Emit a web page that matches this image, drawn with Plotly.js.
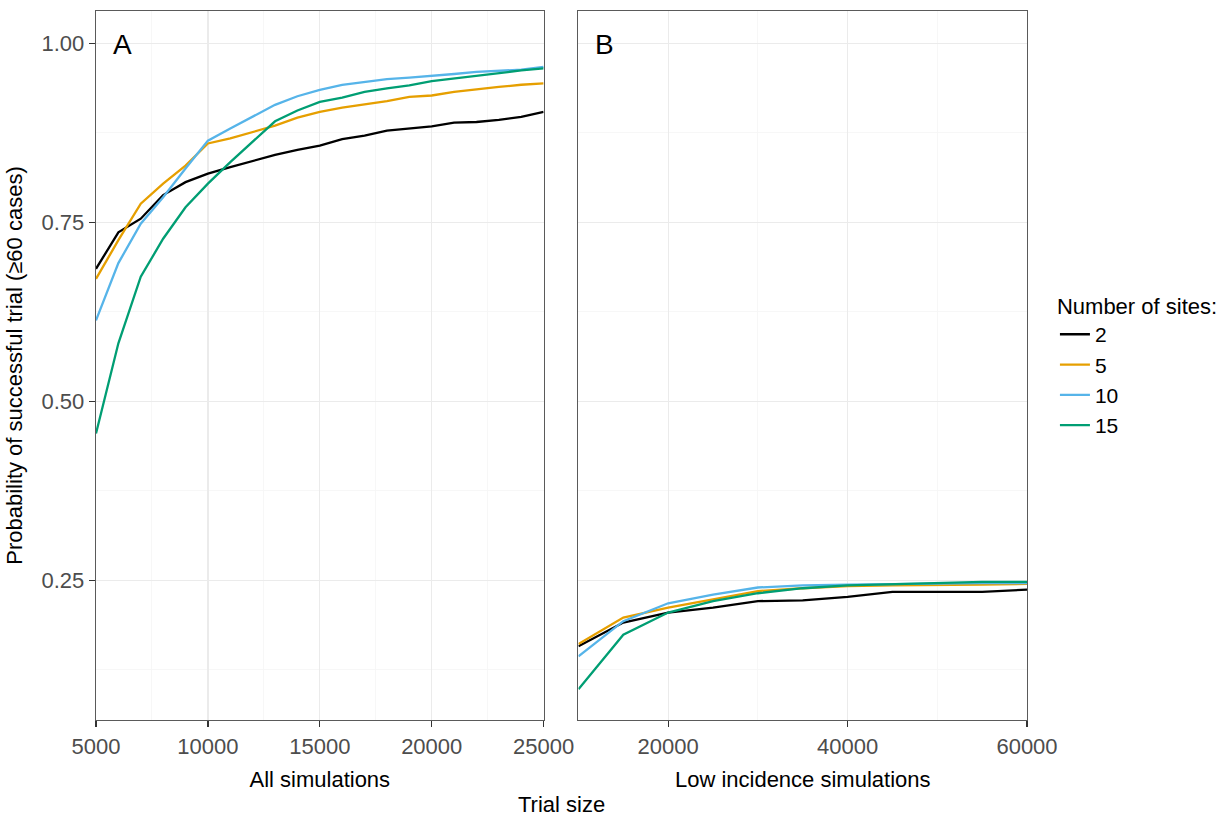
<!DOCTYPE html>
<html>
<head>
<meta charset="utf-8">
<script src="https://cdn.plot.ly/plotly-3.0.1.min.js"></script>
<style>html,body{margin:0;padding:0;background:#fff;}#chart{width:1231px;height:821px;}</style>
</head>
<body>
<div id="chart"></div>
<script>
// Panel A: all simulations
const trialSizeA = [5000, 6000, 7000, 8000, 9000, 10000, 11000, 12000, 13000, 14000, 15000,
                    16000, 17000, 18000, 19000, 20000, 21000, 22000, 23000, 24000, 25000];
const a_sites2  = [0.685, 0.736, 0.755, 0.788, 0.806, 0.818, 0.827, 0.836, 0.844, 0.851, 0.857,
                   0.866, 0.871, 0.878, 0.881, 0.884, 0.889, 0.890, 0.893, 0.897, 0.904];
const a_sites5  = [0.671, 0.725, 0.776, 0.804, 0.829, 0.860, 0.867, 0.876, 0.885, 0.896, 0.904,
                   0.910, 0.914, 0.919, 0.925, 0.927, 0.932, 0.936, 0.939, 0.942, 0.944];
const a_sites10 = [0.613, 0.693, 0.748, 0.785, 0.825, 0.864, 0.881, 0.898, 0.914, 0.926, 0.935,
                   0.942, 0.946, 0.950, 0.952, 0.954, 0.957, 0.960, 0.962, 0.963, 0.967];
const a_sites15 = [0.455, 0.581, 0.674, 0.727, 0.771, 0.804, 0.834, 0.863, 0.891, 0.906, 0.918,
                   0.924, 0.932, 0.937, 0.941, 0.947, 0.951, 0.955, 0.958, 0.962, 0.965];

// Panel B: low incidence simulations
const trialSizeB = [10000, 15000, 20000, 25000, 30000, 35000, 40000, 45000, 50000, 55000, 60000];
const b_sites2  = [0.158, 0.191, 0.205, 0.212, 0.221, 0.222, 0.227, 0.234, 0.234, 0.234, 0.237];
const b_sites5  = [0.161, 0.198, 0.212, 0.223, 0.235, 0.239, 0.242, 0.243, 0.243, 0.244, 0.245];
const b_sites10 = [0.144, 0.193, 0.218, 0.230, 0.240, 0.243, 0.244, 0.245, 0.246, 0.246, 0.246];
const b_sites15 = [0.098, 0.174, 0.205, 0.221, 0.232, 0.239, 0.243, 0.245, 0.247, 0.248, 0.248];

const siteLabels = ['2', '5', '10', '15'];
const siteColors = ['#000000', '#E69F00', '#56B4E9', '#009E73'];
const seriesA = [a_sites2, a_sites5, a_sites10, a_sites15];
const seriesB = [b_sites2, b_sites5, b_sites10, b_sites15];

const traces = [];
siteLabels.forEach((lab, i) => {
  traces.push({
    type: 'scatter', mode: 'lines', x: trialSizeA, y: seriesA[i],
    name: lab, legendgroup: lab, showlegend: true,
    line: {color: siteColors[i], width: 2.3},
    xaxis: 'x', yaxis: 'y'
  });
});
siteLabels.forEach((lab, i) => {
  traces.push({
    type: 'scatter', mode: 'lines', x: trialSizeB, y: seriesB[i],
    name: lab, legendgroup: lab, showlegend: false,
    line: {color: siteColors[i], width: 2.3},
    xaxis: 'x2', yaxis: 'y2'
  });
});

const FONT = 'Liberation Sans, Arial, Helvetica, sans-serif';
const commonAxis = {
  showline: true, mirror: true, linecolor: '#5a5a5a', linewidth: 1.3,
  ticks: 'outside', ticklen: 6, tickwidth: 1.2, tickcolor: '#333333',
  tickfont: {family: FONT, size: 22, color: '#4D4D4D'},
  showgrid: true, gridcolor: '#EBEBEB', gridwidth: 1.3,
  zeroline: false, fixedrange: true
};

const layout = {
  width: 1231, height: 821,
  margin: {l: 96, r: 199, t: 11, b: 101, pad: 0},
  paper_bgcolor: '#ffffff', plot_bgcolor: '#ffffff',
  font: {family: FONT, size: 22, color: '#000000'},
  showlegend: true,
  legend: {
    title: {text: 'Number of sites:', font: {family: FONT, size: 22, color: '#000000'}},
    font: {family: FONT, size: 21, color: '#000000'},
    x: 1.03, xanchor: 'left', y: 0.5, yanchor: 'middle',
    bgcolor: 'rgba(0,0,0,0)', borderwidth: 0, tracegroupgap: 0, itemwidth: 30
  },
  xaxis: Object.assign({}, commonAxis, {
    domain: [0, 0.4808], range: [5000, 25000], anchor: 'y',
    tick0: 0, dtick: 5000, tickformat: 'd',
    minor: {dtick: 2500, tick0: 0, showgrid: true, gridcolor: '#F5F5F5', gridwidth: 0.8, ticks: ''},
    title: {text: 'All simulations', font: {family: FONT, size: 22, color: '#000000'}, standoff: 14}
  }),
  xaxis2: Object.assign({}, commonAxis, {
    domain: [0.5182, 1], range: [10000, 60000], anchor: 'y2',
    tick0: 0, dtick: 20000, tickformat: 'd',
    minor: {dtick: 10000, tick0: 0, showgrid: true, gridcolor: '#F5F5F5', gridwidth: 0.8, ticks: ''},
    title: {text: 'Low incidence simulations', font: {family: FONT, size: 22, color: '#000000'}, standoff: 14}
  }),
  yaxis: Object.assign({}, commonAxis, {
    domain: [0, 1], range: [0.055, 1.045], anchor: 'x',
    tick0: 0, dtick: 0.25, tickformat: '.2f',
    minor: {dtick: 0.125, tick0: 0, showgrid: true, gridcolor: '#F5F5F5', gridwidth: 0.8, ticks: ''},
    title: {text: 'Probability of successful trial (≥60 cases)', font: {family: FONT, size: 22, color: '#000000'}, standoff: 12}
  }),
  yaxis2: Object.assign({}, commonAxis, {
    domain: [0, 1], range: [0.055, 1.045], anchor: 'x2', matches: 'y',
    tick0: 0, dtick: 0.25, showticklabels: false, ticks: '',
    minor: {dtick: 0.125, tick0: 0, showgrid: true, gridcolor: '#F5F5F5', gridwidth: 0.8, ticks: ''}
  }),
  annotations: [
    {text: 'A', xref: 'x', yref: 'y', x: 6170, y: 0.998, showarrow: false,
     font: {family: FONT, size: 28, color: '#000000'}, xanchor: 'center', yanchor: 'middle'},
    {text: 'B', xref: 'x2', yref: 'y2', x: 12850, y: 0.998, showarrow: false,
     font: {family: FONT, size: 28, color: '#000000'}, xanchor: 'center', yanchor: 'middle'},
    {text: 'Trial size', xref: 'paper', yref: 'paper', x: 0.5, y: -0.119, showarrow: false,
     font: {family: FONT, size: 22, color: '#000000'}, xanchor: 'center', yanchor: 'middle'}
  ]
};

Plotly.newPlot('chart', traces, layout, {displayModeBar: false, staticPlot: true});
</script>
</body>
</html>
